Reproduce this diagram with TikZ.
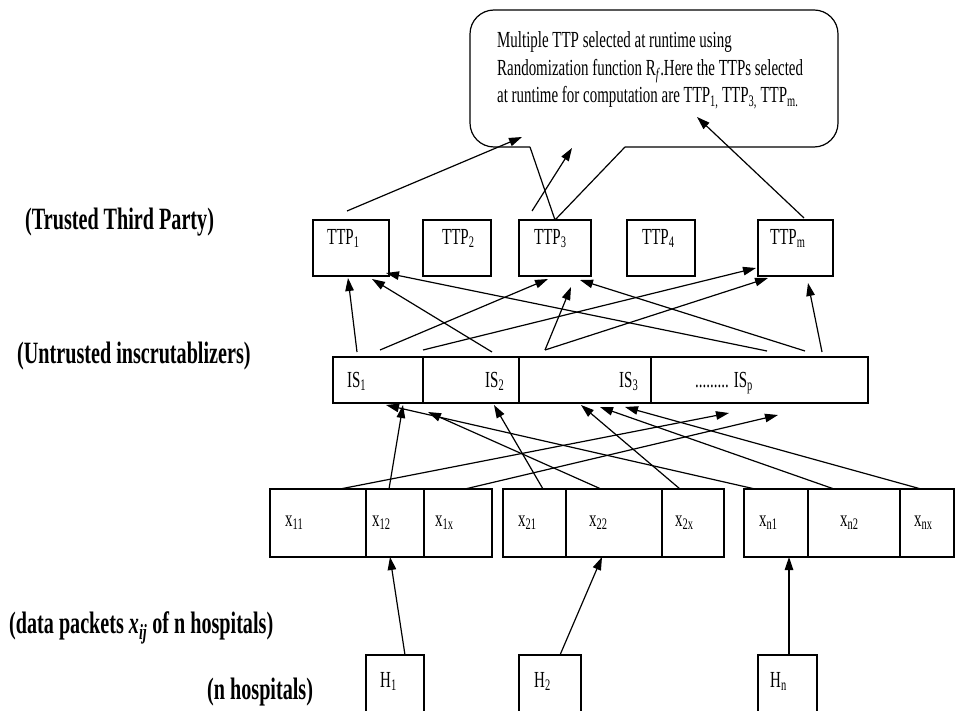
\documentclass[tikz,border=0pt]{standalone}
\usepackage{fontspec}
\setmainfont{Liberation Serif}
\usepackage{graphicx}
\usetikzlibrary{calc,arrows.meta}

\newcommand{\cond}[1]{\scalebox{0.65}[1]{#1}}

\tikzset{
  box/.style={draw, line width=1.2pt, inner sep=0pt, outer sep=0pt, anchor=north west},
  ttp/.style={box, minimum height=56pt},
  iscell/.style={box, minimum height=46pt},
  xcell/.style={box, minimum height=68pt},
  hosp/.style={box, minimum height=58pt},
  lbl/.style={inner sep=0pt, anchor=base west, font=\fontsize{23}{27}\selectfont},
  side/.style={inner sep=0pt, anchor=base west, font=\fontsize{31}{36}\selectfont\bfseries},
  arr/.style={-{Triangle[length=13pt,width=8.5pt]}, line width=1.2pt},
}

\begin{document}
\begin{tikzpicture}[x=1pt,y=-1pt]
\useasboundingbox (0,0) rectangle (955,711);

% trusted third parties
\foreach \n/\x/\w in {t1/313/76, t2/423/68, t3/519/72, t4/627/68, tm/758/75}
  \node[ttp, minimum width=\w pt] (\n) at (\x,220) {};
\node[lbl] (t1l) at ($(t1.north west)+(14,24)$) {\cond{TTP\textsubscript{1}}};
\node[lbl] (t2l) at ($(t2.north west)+(19,24)$) {\cond{TTP\textsubscript{2}}};
\node[lbl] (t3l) at ($(t3.north west)+(15,24)$) {\cond{TTP\textsubscript{3}}};
\node[lbl] (t4l) at ($(t4.north west)+(15,24)$) {\cond{TTP\textsubscript{4}}};
\node[lbl] (tml) at ($(tm.north west)+(12,24)$) {\cond{TTP\textsubscript{m}}};

% inscrutablizers
\foreach \n/\x/\w in {is1/333/90, is2/423/96, is3/519/132, isp/651/217}
  \node[iscell, minimum width=\w pt] (\n) at (\x,357) {};
\node[lbl] (is1l) at ($(is1.west)+(14,7)$) {\cond{IS\textsubscript{1}}};
\node[lbl] (is2l) at ($(is2.west)+(62,7)$) {\cond{IS\textsubscript{2}}};
\node[lbl] (is3l) at ($(is3.west)+(100,7)$) {\cond{IS\textsubscript{3}}};
\node[lbl] (ispl) at ($(isp.west)+(44,7)$) {\cond{......... IS\textsubscript{p}}};

% data packets
\foreach \n/\x/\w in {x11/270/96, x12/366/58, x1x/424/68, x21/503/63, x22/566/96,
                      x2x/662/62, xn1/744/64, xn2/808/92, xnx/900/54}
  \node[xcell, minimum width=\w pt] (\n) at (\x,489) {};
\node[lbl] (x11l) at ($(x11.west)+(15,3)$) {\cond{x\textsubscript{11}}};
\node[lbl] (x12l) at ($(x12.west)+(6,3)$) {\cond{x\textsubscript{12}}};
\node[lbl] (x1xl) at ($(x1x.west)+(11,3)$) {\cond{x\textsubscript{1x}}};
\node[lbl] (x21l) at ($(x21.west)+(15,3)$) {\cond{x\textsubscript{21}}};
\node[lbl] (x22l) at ($(x22.west)+(23,3)$) {\cond{x\textsubscript{22}}};
\node[lbl] (x2xl) at ($(x2x.west)+(13,3)$) {\cond{x\textsubscript{2x}}};
\node[lbl] (xn1l) at ($(xn1.west)+(15,3)$) {\cond{x\textsubscript{n1}}};
\node[lbl] (xn2l) at ($(xn2.west)+(32,3)$) {\cond{x\textsubscript{n2}}};
\node[lbl] (xnxl) at ($(xnx.west)+(14,3)$) {\cond{x\textsubscript{nx}}};

% hospitals
\foreach \n/\x/\w in {h1/366/58, h2/519/62, hn/758/59}
  \node[hosp, minimum width=\w pt] (\n) at (\x,655) {};
\node[lbl] (h1l) at ($(h1.north west)+(14,32)$) {\cond{H\textsubscript{1}}};
\node[lbl] (h2l) at ($(h2.north west)+(15,32)$) {\cond{H\textsubscript{2}}};
\node[lbl] (hnl) at ($(hn.north west)+(12,32)$) {\cond{H\textsubscript{n}}};

% side labels
\node[side] (ttpside) at (25,230) {\cond{(Trusted Third Party)}};
\node[side] (isside) at (17,363) {\cond{(Untrusted inscrutablizers)}};
\node[side] (xside) at (9,633) {\cond{(data packets \textit{x}\textsubscript{\textit{ij}} of n hospitals)}};
\node[side] (hside) at (207,699) {\cond{(n hospitals)}};

% callout
\draw[line width=1.2pt, rounded corners=24] (530,147) -- (470,147) -- (470,10)
  -- (838,10) -- (838,147) -- (625,147);
\draw[line width=1.2pt, line join=round] (530,147) -- (t3.north) -- (625,147);
\node[lbl] (note1) at (497,48) {\cond{Multiple TTP selected at runtime using}};
\node[lbl] (note2) at (497,76) {\cond{Randomization function R\textsubscript{\textit{f}}.Here the TTPs selected}};
\node[lbl] (note3) at (497,103) {\cond{at runtime for computation are TTP\textsubscript{1,} TTP\textsubscript{3,} TTP\textsubscript{m.}}};
\coordinate (p1) at (522,137);
\coordinate (p2) at (572,148);
\coordinate (p3) at (697,117);

% selected TTPs up to the note
\draw[arr] ($(t1.north west)+(34,-9)$) -- (p1);
\draw[arr] ($(t3.north west)+(13,-9)$) -- (p2);
\draw[arr] ($(tm.north west)+(46,-2)$) -- (p3);

% inscrutablizers to TTPs
\draw[arr] ($(is1.north west)+(24,-5)$) -- ($(t1.south west)+(35,2)$);
\draw[arr] ($(is2.north west)+(69,-5)$) -- ($(t1.south west)+(59,3)$);
\draw[arr] ($(isp.north west)+(116,-6)$) -- ($(t1.south west)+(73,-3)$);
\draw[arr] ($(is1.north west)+(47,-7)$) -- ($(t3.south west)+(29,3)$);
\draw[arr] ($(is3.north west)+(26,-7)$) -- ($(t3.south west)+(52,11)$);
\draw[arr] ($(isp.north west)+(154,-6)$) -- ($(t3.south west)+(61,4)$);
\draw[arr] ($(is2.north west)+(0,-7)$) -- ($(tm.south west)+(-2,-8)$);
\draw[arr] ($(is3.north west)+(26,-7)$) -- ($(tm.south west)+(10,2)$);
\draw[arr] ($(isp.north west)+(171,-5)$) -- ($(tm.south west)+(50,7)$);

% data packets to inscrutablizers
\draw[arr] ($(x11.north west)+(70,0)$) -- ($(isp.south west)+(78,10)$);
\draw[arr] ($(x12.north west)+(23,0)$) -- ($(is1.south west)+(70,2)$);
\draw[arr] ($(x1x.north west)+(41,0)$) -- ($(isp.south west)+(127,12)$);
\draw[arr] ($(x21.north west)+(40,0)$) -- ($(is2.south west)+(71,2)$);
\draw[arr] ($(x22.north west)+(35,0)$) -- ($(is2.south west)+(5,9)$);
\draw[arr] ($(x2x.north west)+(18,0)$) -- ($(is3.south west)+(62,2)$);
\draw[arr] ($(xn1.north west)+(11,0)$) -- ($(is1.south west)+(53,2)$);
\draw[arr] ($(xn2.north west)+(26,0)$) -- ($(is3.south west)+(81,4)$);
\draw[arr] ($(xnx.north west)+(21,0)$) -- ($(is3.south west)+(106,4)$);

% hospitals to their packets
\draw[arr] ($(h1.north west)+(39,0)$) -- ($(x12.south west)+(24,0)$);
\draw[arr] ($(h2.north west)+(41,0)$) -- ($(x22.south west)+(36,0)$);
\draw[arr] ($(hn.north west)+(31,0)$) -- ($(xn1.south west)+(45,0)$);
\end{tikzpicture}
\end{document}
